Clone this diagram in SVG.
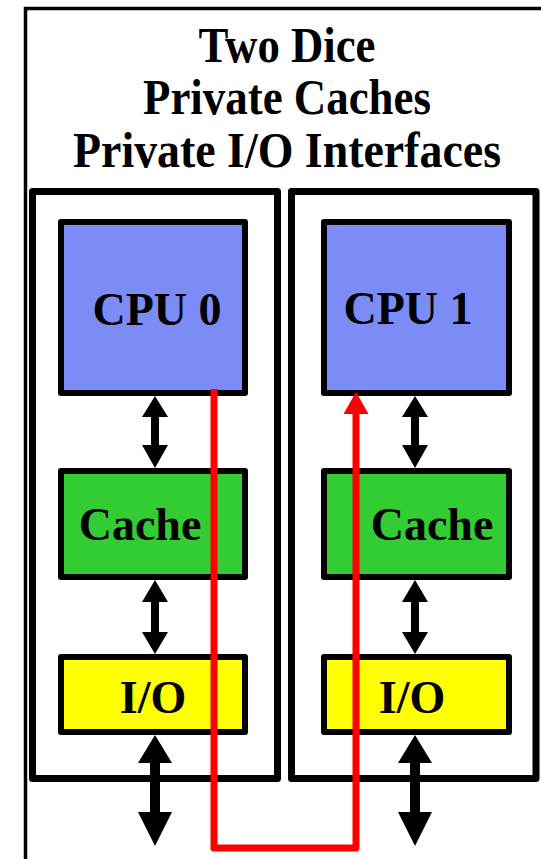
<svg xmlns="http://www.w3.org/2000/svg" width="541" height="859" viewBox="0 0 541 859">
  <style>
    .t { font-family: "Liberation Serif", "Times New Roman", serif; font-weight: bold; fill: #000; text-anchor: middle; }
    .title { font-size: 50px; }
    .lbl { font-size: 46px; }
    .die { fill: #fff; stroke: #000; stroke-width: 7; stroke-linejoin: round; }
    .node { stroke: #000; stroke-width: 6; stroke-linejoin: round; }
    .cpu { fill: #7b8cf6; }
    .cache { fill: #33cc33; }
    .io { fill: #ffff00; }
    .arr { fill: #000; }
  </style>
  <rect x="0" y="0" width="541" height="859" fill="#fff"/>
  <path d="M25.5,859 V8.5 H541" fill="none" stroke="#000" stroke-width="3.5"/>
  <g id="title">
    <text class="t title" x="287" y="62" textLength="177" lengthAdjust="spacingAndGlyphs">Two Dice</text>
    <text class="t title" x="287" y="114" textLength="288" lengthAdjust="spacingAndGlyphs">Private Caches</text>
    <text class="t title" x="287" y="167" textLength="428" lengthAdjust="spacingAndGlyphs">Private I/O Interfaces</text>
  </g>
  <g id="die0"><rect class="die" x="32.5" y="191.5" width="245" height="587"/></g>
  <g id="die1"><rect class="die" x="291.5" y="191.5" width="244.5" height="587"/></g>
  <g id="cpu0"><rect class="node cpu" x="61" y="222" width="184" height="171"/><text class="t lbl" x="157" y="325">CPU 0</text></g>
  <g id="cpu1"><rect class="node cpu" x="324" y="222" width="185" height="171"/><text class="t lbl" x="408" y="324">CPU 1</text></g>
  <g id="cache0"><rect class="node cache" x="61" y="471" width="184" height="106"/><text class="t lbl" x="140" y="540">Cache</text></g>
  <g id="cache1"><rect class="node cache" x="324" y="471" width="185" height="106"/><text class="t lbl" x="432" y="540">Cache</text></g>
  <g id="io0"><rect class="node io" x="61" y="657" width="184" height="75"/><text class="t lbl" x="153" y="713">I/O</text></g>
  <g id="io1"><rect class="node io" x="324" y="657" width="185" height="75"/><text class="t lbl" x="412" y="713">I/O</text></g>
  <g id="connectors">
    <polygon class="arr" points="155,396 168,417 159,417 159,445 168,445 155,468 142,445 151,445 151,417 142,417"/>
    <polygon class="arr" points="415,396 428,417 419,417 419,445 428,445 415,468 402,445 411,445 411,417 402,417"/>
    <polygon class="arr" points="155,580 168,602 159,602 159,632 168,632 155,654 142,632 151,632 151,602 142,602"/>
    <polygon class="arr" points="415,580 428,602 419,602 419,632 428,632 415,654 402,632 411,632 411,602 402,602"/>
    <polygon class="arr" points="155,735 172,763 160,763 160,812 172,812 155,846 138,812 150,812 150,763 138,763"/>
    <polygon class="arr" points="415,735 432,763 420,763 420,812 432,812 415,846 398,812 410,812 410,763 398,763"/>
    <path d="M214,389 V848 H356 V412" fill="none" stroke="#ff0000" stroke-width="7" stroke-linejoin="round"/>
    <polygon points="356,392 368.5,414 343.5,414" fill="#ff0000"/>
  </g>
</svg>
